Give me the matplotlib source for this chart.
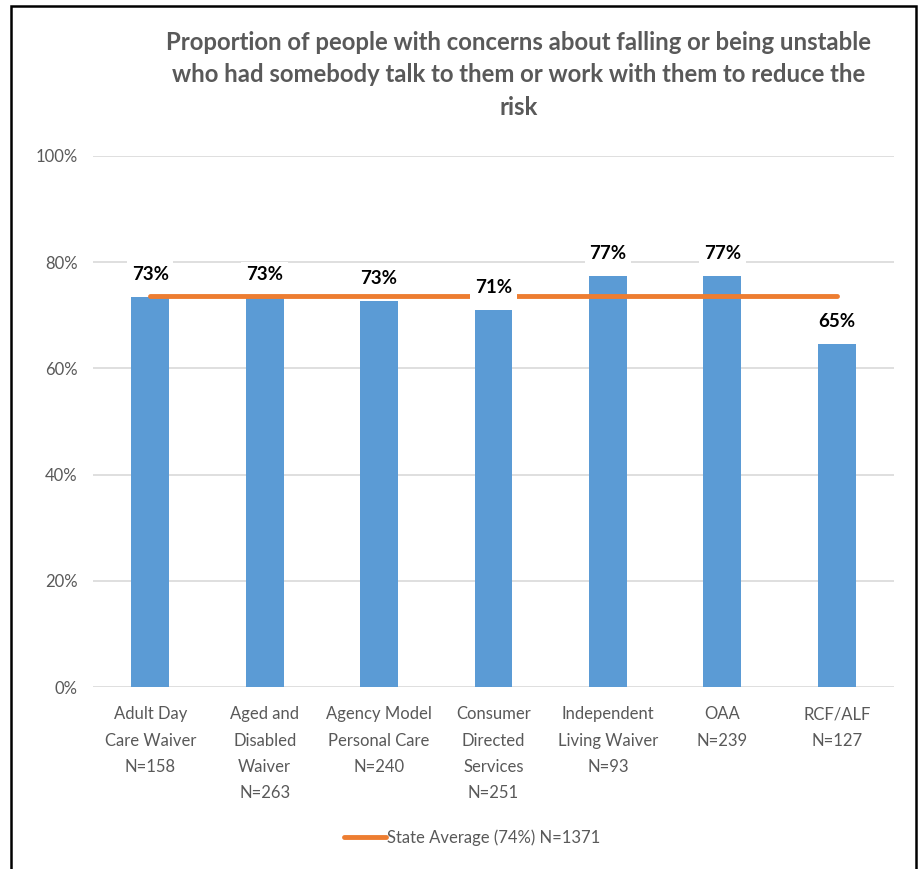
import matplotlib
matplotlib.use("Agg")
import matplotlib.pyplot as plt
from matplotlib.patches import Rectangle
import numpy as np

plt.rcParams['font.family'] = ['Lato', 'DejaVu Sans']

categories = ["Adult Day\nCare Waiver\nN=158", "Aged and\nDisabled\nWaiver\nN=263",
              "Agency Model\nPersonal Care\nN=240", "Consumer\nDirected\nServices\nN=251",
              "Independent\nLiving Waiver\nN=93", "OAA\nN=239", "RCF/ALF\nN=127"]
values = [73.4, 73.3, 72.7, 71.0, 77.4, 77.4, 64.6]
state_avg = 73.6
legend_label = "State Average (74%) N=1371"
title = ("Proportion of people with concerns about falling or being unstable\n"
         "who had somebody talk to them or work with them to reduce the\nrisk")

BAR = "#5B9BD5"
ORANGE = "#ED7D31"
GRID = "#D9D9D9"
TXT = "#595959"

fig = plt.figure(figsize=(9.24, 8.69), dpi=100)
ax = fig.add_axes([93/924, 1-687/869, (894-93)/924, (687-156)/869])

x = np.arange(len(categories))
ax.bar(x, values, width=0.33, color=BAR, zorder=2)
line, = ax.plot(x, [state_avg]*len(x), color=ORANGE, lw=3.5, solid_capstyle='round',
                zorder=3, label=legend_label)

for xi, v in zip(x, values):
    ax.annotate(f"{v:.0f}%", (xi, v), xytext=(0, 16.5), textcoords='offset points',
                ha='center', va='center', fontsize=13.5, fontweight='bold', color='black',
                zorder=5, bbox=dict(boxstyle='square,pad=0.25', fc='white', ec='none'))

ax.set_xlim(-0.5, len(categories)-0.5)
ax.set_ylim(0, 100)
ax.set_yticks(np.arange(0, 101, 20))
ax.set_yticklabels([f"{t}%" for t in range(0, 101, 20)])
ax.set_xticks(x)
ax.set_xticklabels(categories, linespacing=1.78)
ax.tick_params(axis='both', length=0, labelsize=12, labelcolor=TXT)
ax.tick_params(axis='y', pad=11)
ax.tick_params(axis='x', pad=14)
ax.yaxis.grid(True, color=GRID, lw=1.2, zorder=0)
ax.set_axisbelow(True)
for s in ax.spines.values():
    s.set_visible(False)

fig.text(519/924, 1-75/869, title, ha='center', va='center', fontsize=17.2,
         fontweight='bold', color=TXT, linespacing=1.5)

fig.legend(handles=[line], loc='center', bbox_to_anchor=(472/924, 1-838/869),
           frameon=False, fontsize=12, labelcolor=TXT, handlelength=2.5,
           handletextpad=0.05)

fig.patches.append(Rectangle((11/924, -0.05), (916-11)/924, 1.05-6/869,
                             transform=fig.transFigure, fill=False, ec='black',
                             lw=1.8, clip_on=False))

fig.savefig("out.png", dpi=100)
